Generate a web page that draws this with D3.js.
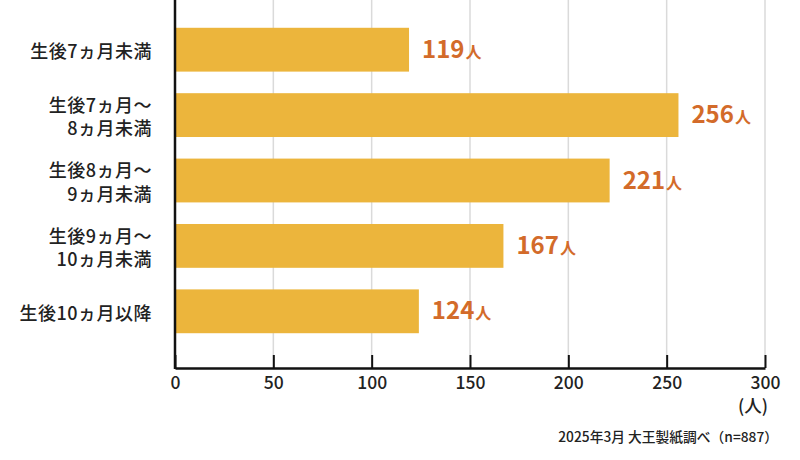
<!DOCTYPE html>
<html>
<head>
<meta charset="utf-8">
<script src="https://cdn.jsdelivr.net/npm/d3@7"></script>
<style>
  body { margin: 0; background: #fff; }
  svg { display: block; font-family: "Noto Sans CJK JP", "Noto Sans", sans-serif; }
</style>
</head>
<body>
<div id="chart"></div>
<script>
// categories (each label split into its display lines)
var categories = [
  ['生後7ヵ月未満'],
  ['生後7ヵ月～', '8ヵ月未満'],
  ['生後8ヵ月～', '9ヵ月未満'],
  ['生後9ヵ月～', '10ヵ月未満'],
  ['生後10ヵ月以降']
];
var values = [119, 256, 221, 167, 124];
var tickValues = [0, 50, 100, 150, 200, 250, 300];
var unit = '人';
var axisUnit = '(人)';
var source = '2025年3月 大王製紙調べ（n=887）';

var width = 800, height = 460;
var axisY = 368;

var svg = d3.select('#chart').append('svg')
    .attr('width', width)
    .attr('height', height);

var x = d3.scaleLinear()
    .domain([0, 300])
    .range([175, 765]);

var y = d3.scaleBand()
    .domain(d3.range(categories.length))
    .range([17, 344])
    .paddingInner(0.33)
    .paddingOuter(0.165);

// grid lines
svg.append('g').selectAll('line')
    .data(tickValues.filter(function(d) { return d > 0; }))
    .enter().append('line')
    .attr('x1', function(d) { return x(d); })
    .attr('x2', function(d) { return x(d); })
    .attr('y1', 0)
    .attr('y2', axisY)
    .attr('stroke', '#dadada')
    .attr('stroke-width', 1.5);

// bars
svg.append('g').selectAll('rect')
    .data(values)
    .enter().append('rect')
    .attr('x', x(0))
    .attr('y', function(d, i) { return y(i); })
    .attr('width', function(d) { return x(d) - x(0); })
    .attr('height', y.bandwidth())
    .attr('fill', '#ecb53c');

// value labels
var vl = svg.append('g').selectAll('text')
    .data(values)
    .enter().append('text')
    .attr('x', function(d) { return x(d) + 13; })
    .attr('y', function(d, i) { return y(i) + y.bandwidth() / 2 + 8; })
    .attr('fill', '#d36b2a')
    .attr('font-weight', 'bold');
vl.append('tspan')
    .attr('font-size', 24)
    .text(function(d) { return d; });
vl.append('tspan')
    .attr('font-size', 16)
    .attr('dx', 1)
    .text(unit);

// category labels
var cl = svg.append('g').selectAll('text')
    .data(categories)
    .enter().append('text')
    .attr('text-anchor', 'end')
    .attr('font-size', 18)
    .attr('font-weight', 500)
    .attr('letter-spacing', 0.5)
    .attr('fill', '#222')
    .attr('y', function(d, i) {
      return y(i) + y.bandwidth() / 2 - (d.length - 1) * 11.75 + 2;
    });
cl.selectAll('tspan')
    .data(function(d) { return d; })
    .enter().append('tspan')
    .attr('x', 152)
    .attr('dy', function(d, j) { return j === 0 ? '0.36em' : 23.5; })
    .text(function(d) { return d; });

// x axis
var xAxis = d3.axisBottom(x)
    .tickValues(tickValues)
    .tickSizeInner(-13)
    .tickSizeOuter(0)
    .tickPadding(9);

var gx = svg.append('g')
    .attr('transform', 'translate(0,' + axisY + ')')
    .call(xAxis);
gx.select('.domain').attr('stroke', '#111').attr('stroke-width', 2.5);
gx.selectAll('.tick line').attr('stroke', '#111').attr('stroke-width', 2);
gx.selectAll('.tick text')
    .attr('font-size', 17.5)
    .attr('font-weight', 500)
    .attr('font-family', '"Noto Sans CJK JP", "Noto Sans", sans-serif')
    .attr('fill', '#222');

// y axis line
svg.append('line')
    .attr('x1', x(0))
    .attr('x2', x(0))
    .attr('y1', 0)
    .attr('y2', axisY + 1)
    .attr('stroke', '#111')
    .attr('stroke-width', 2.5);

// unit under the last tick
svg.append('text')
    .attr('x', x(300) + 3)
    .attr('y', 412)
    .attr('text-anchor', 'end')
    .attr('font-size', 17.5)
    .attr('font-weight', 500)
    .attr('fill', '#222')
    .text(axisUnit);

// source note
svg.append('text')
    .attr('x', 778)
    .attr('y', 442)
    .attr('text-anchor', 'end')
    .attr('font-size', 13.75)
    .attr('font-weight', 500)
    .attr('fill', '#222')
    .text(source);
</script>
</body>
</html>
